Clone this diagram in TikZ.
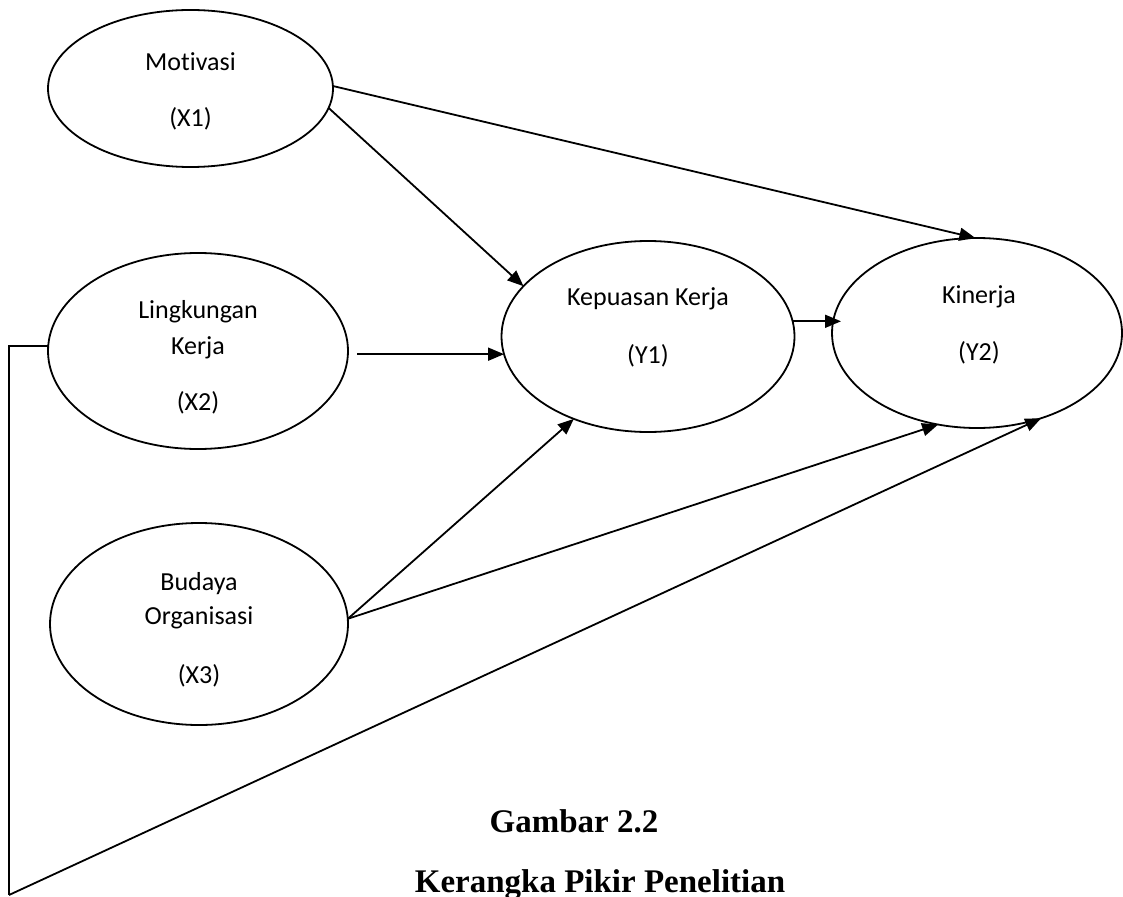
\documentclass[tikz,border=0pt]{standalone}
\usepackage{fontspec}
\usetikzlibrary{shapes.geometric,arrows.meta}
\newfontfamily\labelfont[Ligatures=NoCommon]{Carlito}
\newfontfamily\captionfont{Liberation Serif}

\begin{document}
\begin{tikzpicture}[x=1pt,y=-1pt,
  latent/.style={draw, ellipse, line width=1.8pt, inner sep=0pt, outer sep=0pt},
  lbl/.style={anchor=base, inner sep=0pt, font=\labelfont\fontsize{26}{31}\selectfont},
  captext/.style={anchor=base, inner sep=0pt, font=\captionfont\bfseries\fontsize{33}{40}\selectfont},
  link/.style={line width=1.8pt, -{Triangle[length=16pt,width=13pt]}},
  plain/.style={line width=1.8pt}]
\useasboundingbox (0,0) rectangle (1123,896);

% latent variables
\node[latent, minimum width=285pt, minimum height=157pt] (x1) at (190.5,88.5) {};
\node[latent, minimum width=300pt, minimum height=196pt] (x2) at (198,351) {};
\node[latent, minimum width=298pt, minimum height=202pt] (x3) at (199,624) {};
\node[latent, minimum width=293pt, minimum height=191pt] (y1) at (648,336.5) {};
\node[latent, minimum width=290pt, minimum height=190pt] (y2) at (977,333) {};

% labels inside the ellipses
\node[lbl] (x1a) at (190.5,71) {Motivasi};
\node[lbl] (x1b) at (190.5,127) {(X1)};
\node[lbl] (x2a) at (198,318) {Lingkungan};
\node[lbl] (x2b) at (198,354) {Kerja};
\node[lbl] (x2c) at (198,410) {(X2)};
\node[lbl] (x3a) at (199,590) {Budaya};
\node[lbl] (x3b) at (199,624) {Organisasi};
\node[lbl] (x3c) at (199,683) {(X3)};
\node[lbl] (y1a) at (648,305) {Kepuasan Kerja};
\node[lbl] (y1b) at (648,363) {(Y1)};
\node[lbl] (y2a) at (979,303) {Kinerja};
\node[lbl] (y2b) at (979,360) {(Y2)};

% caption
\node[captext] (cap1) at (574,832) {Gambar 2.2};
\node[captext] (cap2) at (600,892) {Kerangka Pikir Penelitian};

% paths
\draw[link] (x1.1) -- (y2.91);
\draw[link] (x1.-8) -- (y1.158);
\draw[link] ([xshift=9pt]x2.east |- y1.187) -- (y1.187);
\draw[link] (y1.6) -- ([xshift=9pt]y1.6 -| y2.west);
\draw[link] (x3.2) -- (y1.228);
\draw[link] (x3.2) -- (y2.247);

% return path from X2 along the left edge to Y2
\coordinate (bl) at (9,895);
\draw[plain] (x2.178) -| (bl);
\draw[link] (bl) -- (y2.-53);
\end{tikzpicture}
\end{document}
